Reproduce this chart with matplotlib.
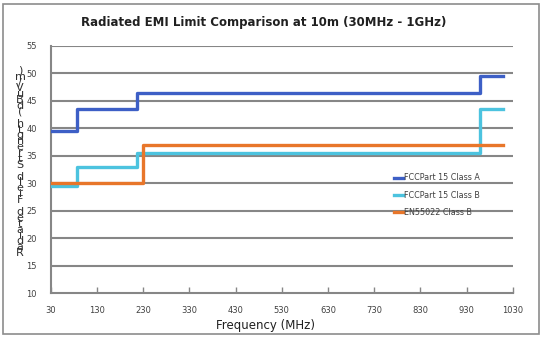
import numpy as np
import matplotlib
matplotlib.use("Agg")
import matplotlib.pyplot as plt
from matplotlib.patches import Rectangle

# step limits (MHz, dBuV/m)
fcc_a_freq = [30, 88, 88, 216, 216, 960, 960, 1010]
fcc_a_lvl = [39.5, 39.5, 43.5, 43.5, 46.4, 46.4, 49.5, 49.5]
fcc_b_freq = [30, 88, 88, 216, 216, 960, 960, 1010]
fcc_b_lvl = [29.5, 29.5, 33.0, 33.0, 35.5, 35.5, 43.5, 43.5]
en_freq = [30, 230, 230, 1010]
en_lvl = [30.0, 30.0, 37.0, 37.0]

xticks = list(range(30, 1031, 100))
yticks = list(range(10, 56, 5))

fig = plt.figure(figsize=(5.44, 3.38), dpi=100)
fig.patches.append(Rectangle((0.006, 0.012), 0.985, 0.976, transform=fig.transFigure,
                             fill=False, edgecolor='#8c8c8c', linewidth=1.2))
ax = fig.add_axes([0.0932, 0.133, 0.8493, 0.731])

ax.set_xlim(30, 1030)
ax.set_ylim(10, 55)
for y in yticks[1:]:
    ax.axhline(y, color='#868686', linewidth=1.5, zorder=1)

ax.plot(fcc_a_freq, fcc_a_lvl, color='#3d5fc6', linewidth=2.4, label='FCCPart 15 Class A', zorder=3)
ax.plot(fcc_b_freq, fcc_b_lvl, color='#4cc3df', linewidth=2.4, label='FCCPart 15 Class B', zorder=3)
ax.plot(en_freq, en_lvl, color='#e8762a', linewidth=2.4, label='EN55022 Class B', zorder=3)

ax.set_xticks(xticks)
ax.set_yticks(yticks)
ax.tick_params(axis='x', direction='in', length=4, width=1, color='#868686',
               labelsize=6, labelcolor='#404040', pad=9)
ax.tick_params(axis='y', length=0, labelsize=6, labelcolor='#404040', pad=10)
for s in ['top', 'right']:
    ax.spines[s].set_visible(False)
for s in ['left', 'bottom']:
    ax.spines[s].set_color('#868686')
    ax.spines[s].set_linewidth(1.5)

fig.text(0.485, 0.932, 'Radiated EMI Limit Comparison at 10m (30MHz - 1GHz)',
         ha='center', va='center', fontsize=8.5, fontweight='bold',
         family='DejaVu Sans', color='#202020')
ax.set_xlabel('Frequency (MHz)', fontsize=8.5, color='#202020')
ax.xaxis.set_label_coords(0.465, -0.105)

ylab = 'Radiated Field Strength (dBuV/m)'
fig.text(0.037, 0.521, '\n'.join(reversed(ylab)), ha='center', va='center',
         fontsize=8, linespacing=0.485, color='#303030')

leg = ax.legend(loc='upper left', bbox_to_anchor=(0.735, 0.497), frameon=False,
                fontsize=5.8, handlelength=1.2, handletextpad=0.1, labelspacing=1.0,
                borderaxespad=0)
for t in leg.get_texts():
    t.set_color('#404040')

fig.savefig('out.png', dpi=100)
